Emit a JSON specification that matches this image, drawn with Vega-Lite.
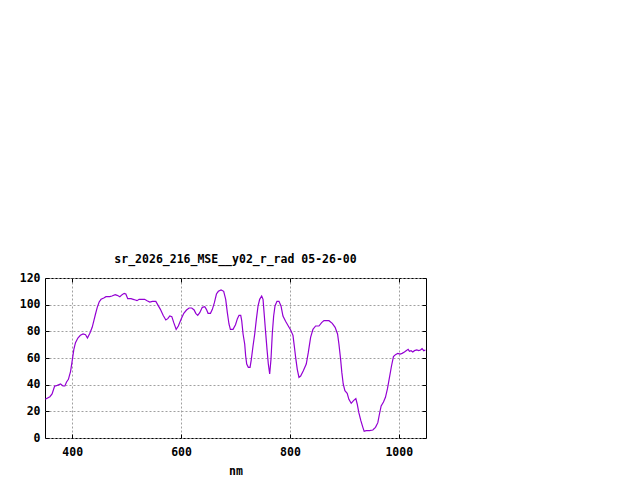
{
  "$schema": "https://vega.github.io/schema/vega-lite/v6.json",
  "autosize": "none",
  "padding": {"left": 45, "top": 278, "right": 214, "bottom": 42},
  "width": 381,
  "height": 160,
  "background": "white",
  "title": {"text": "sr_2026_216_MSE__y02_r_rad 05-26-00", "font": "DejaVu Sans Mono", "fontSize": 11.5, "fontWeight": "bold", "color": "black", "offset": 7, "anchor": "middle"},
  "config": {
    "view": {"stroke": "black", "strokeWidth": 1},
    "axis": {"labelFont": "DejaVu Sans Mono", "labelFontSize": 11.5, "labelFontWeight": "bold", "labelColor": "black", "titleFont": "DejaVu Sans Mono", "titleFontSize": 11.5, "titleFontWeight": "bold", "titleColor": "black", "domain": false, "tickColor": "black", "tickSize": -4, "gridColor": "#a0a0a0", "gridDash": [2, 2], "gridOpacity": 1, "gridWidth": 1}
  },
  "data": {"values": [
    {"nm": 350.5, "v": 29}, {"nm": 359, "v": 31}, {"nm": 363, "v": 33}, {"nm": 367.6, "v": 38.8}, {"nm": 372.5, "v": 39.5}, {"nm": 378.6, "v": 40.5}, {"nm": 383, "v": 39}, {"nm": 386.5, "v": 39}, {"nm": 389.6, "v": 42}, {"nm": 393, "v": 44}, {"nm": 397, "v": 50}, {"nm": 400, "v": 58}, {"nm": 403, "v": 66.5}, {"nm": 406, "v": 71.5}, {"nm": 410.4, "v": 75}, {"nm": 415, "v": 77}, {"nm": 420, "v": 78}, {"nm": 424.5, "v": 77.5}, {"nm": 428, "v": 75}, {"nm": 432.4, "v": 78.5}, {"nm": 436.7, "v": 83}, {"nm": 439.8, "v": 88}, {"nm": 442.8, "v": 93}, {"nm": 446, "v": 98}, {"nm": 449.5, "v": 102}, {"nm": 453, "v": 104}, {"nm": 458, "v": 105}, {"nm": 462, "v": 106}, {"nm": 469, "v": 106}, {"nm": 473, "v": 106.5}, {"nm": 479, "v": 107.5}, {"nm": 482.6, "v": 107}, {"nm": 487.5, "v": 106}, {"nm": 491.7, "v": 107.5}, {"nm": 495.4, "v": 108.5}, {"nm": 498.5, "v": 108}, {"nm": 502, "v": 104.5}, {"nm": 508, "v": 104.5}, {"nm": 512, "v": 104}, {"nm": 516, "v": 103.5}, {"nm": 519, "v": 103}, {"nm": 523, "v": 104}, {"nm": 530, "v": 104}, {"nm": 533, "v": 104}, {"nm": 537.6, "v": 103}, {"nm": 542.5, "v": 102}, {"nm": 547.4, "v": 102.5}, {"nm": 553.6, "v": 102.5}, {"nm": 557.8, "v": 99.5}, {"nm": 562, "v": 96.5}, {"nm": 567, "v": 92}, {"nm": 572, "v": 88.5}, {"nm": 575.6, "v": 89.5}, {"nm": 579.3, "v": 91.5}, {"nm": 583, "v": 91}, {"nm": 586.6, "v": 86.5}, {"nm": 591, "v": 81.5}, {"nm": 595, "v": 84}, {"nm": 600, "v": 89}, {"nm": 605, "v": 93.5}, {"nm": 610, "v": 96}, {"nm": 614.7, "v": 97.5}, {"nm": 619.6, "v": 97.5}, {"nm": 624, "v": 96}, {"nm": 627, "v": 93.5}, {"nm": 630.6, "v": 92}, {"nm": 634.3, "v": 94}, {"nm": 639, "v": 98}, {"nm": 643.5, "v": 98.5}, {"nm": 646.5, "v": 96.5}, {"nm": 649.6, "v": 93.5}, {"nm": 654, "v": 93.5}, {"nm": 657.5, "v": 96.5}, {"nm": 661.2, "v": 101.5}, {"nm": 665, "v": 108}, {"nm": 668.5, "v": 110}, {"nm": 673.5, "v": 111}, {"nm": 678.3, "v": 110}, {"nm": 682, "v": 104}, {"nm": 685, "v": 94}, {"nm": 688, "v": 85.5}, {"nm": 690.6, "v": 81.5}, {"nm": 695.5, "v": 81.5}, {"nm": 700, "v": 85}, {"nm": 703.5, "v": 89.5}, {"nm": 706.5, "v": 92}, {"nm": 709.6, "v": 92}, {"nm": 711.4, "v": 88}, {"nm": 713.9, "v": 78}, {"nm": 716.9, "v": 70.5}, {"nm": 718.7, "v": 61.5}, {"nm": 720.6, "v": 55.5}, {"nm": 723.6, "v": 53}, {"nm": 726.7, "v": 53}, {"nm": 729.1, "v": 59}, {"nm": 732.2, "v": 69}, {"nm": 735.3, "v": 78}, {"nm": 738.3, "v": 89}, {"nm": 741.4, "v": 99}, {"nm": 744.4, "v": 104}, {"nm": 748.1, "v": 106.5}, {"nm": 750.6, "v": 104}, {"nm": 753, "v": 91.5}, {"nm": 755.4, "v": 79}, {"nm": 757.9, "v": 66.5}, {"nm": 760.3, "v": 55.5}, {"nm": 762.8, "v": 48}, {"nm": 765.2, "v": 59}, {"nm": 767.7, "v": 79}, {"nm": 770.1, "v": 91.5}, {"nm": 772.6, "v": 99}, {"nm": 776.2, "v": 102.5}, {"nm": 779.9, "v": 102.5}, {"nm": 783.6, "v": 99}, {"nm": 787.2, "v": 91.5}, {"nm": 792, "v": 87.5}, {"nm": 797, "v": 84}, {"nm": 801.3, "v": 81}, {"nm": 805.6, "v": 77}, {"nm": 808, "v": 69}, {"nm": 810.5, "v": 60.5}, {"nm": 813.5, "v": 51.5}, {"nm": 816.6, "v": 45.5}, {"nm": 819.7, "v": 46.5}, {"nm": 824.6, "v": 50.5}, {"nm": 830, "v": 55.5}, {"nm": 833.7, "v": 64}, {"nm": 838, "v": 75.5}, {"nm": 842.3, "v": 81.5}, {"nm": 847.2, "v": 84}, {"nm": 853.3, "v": 84}, {"nm": 858.2, "v": 86.5}, {"nm": 862.5, "v": 88}, {"nm": 871.7, "v": 88}, {"nm": 877.8, "v": 86}, {"nm": 883, "v": 83}, {"nm": 887.5, "v": 78}, {"nm": 890, "v": 70.5}, {"nm": 893, "v": 59.5}, {"nm": 895.4, "v": 49}, {"nm": 897.9, "v": 40.5}, {"nm": 901, "v": 35.5}, {"nm": 905.2, "v": 33.5}, {"nm": 908.3, "v": 29}, {"nm": 912.6, "v": 26}, {"nm": 916.8, "v": 28}, {"nm": 921.1, "v": 29.5}, {"nm": 923.6, "v": 25.5}, {"nm": 926.6, "v": 19}, {"nm": 930.3, "v": 13}, {"nm": 934, "v": 8}, {"nm": 936.4, "v": 5}, {"nm": 940, "v": 5.5}, {"nm": 946.2, "v": 5.5}, {"nm": 952.3, "v": 6}, {"nm": 957.2, "v": 8}, {"nm": 961.5, "v": 11.5}, {"nm": 964.5, "v": 18}, {"nm": 967.6, "v": 24}, {"nm": 971.9, "v": 27}, {"nm": 975.5, "v": 30.5}, {"nm": 979.2, "v": 37}, {"nm": 982.9, "v": 45.5}, {"nm": 986.6, "v": 54}, {"nm": 990.2, "v": 61}, {"nm": 993.9, "v": 62.5}, {"nm": 998.2, "v": 63.5}, {"nm": 1002.5, "v": 63}, {"nm": 1006.1, "v": 63.5}, {"nm": 1010.4, "v": 64.5}, {"nm": 1013.5, "v": 65.5}, {"nm": 1017.2, "v": 66.5}, {"nm": 1019.6, "v": 65}, {"nm": 1022.6, "v": 65.5}, {"nm": 1025.7, "v": 64.5}, {"nm": 1028.8, "v": 65.5}, {"nm": 1033, "v": 66}, {"nm": 1036.7, "v": 65.5}, {"nm": 1039.8, "v": 66}, {"nm": 1042.8, "v": 67}, {"nm": 1045.9, "v": 65.5}, {"nm": 1049, "v": 66}
  ]},
  "layer": [
    {
      "mark": {"type": "line", "color": "#9400D3", "strokeWidth": 1.2, "interpolate": "linear", "clip": true},
      "encoding": {
        "x": {"field": "nm", "type": "quantitative", "scale": {"domain": [350, 1050], "nice": false, "zero": false}, "axis": {"title": "nm", "values": [400, 600, 800, 1000], "format": "d", "labelPadding": 12, "titlePadding": 8, "labelFlush": false}},
        "y": {"field": "v", "type": "quantitative", "scale": {"domain": [0, 120], "nice": false}, "axis": {"title": null, "values": [0, 20, 40, 60, 80, 100, 120], "labelPadding": 9}}
      }
    },
    {
      "mark": {"type": "line", "opacity": 0},
      "encoding": {
        "x": {"field": "nm", "type": "quantitative", "axis": {"orient": "top", "title": null, "labels": false, "grid": false, "values": [400, 600, 800, 1000]}},
        "y": {"field": "v", "type": "quantitative", "axis": {"orient": "right", "title": null, "labels": false, "grid": false, "values": [0, 20, 40, 60, 80, 100, 120]}}
      }
    }
  ],
  "resolve": {"axis": {"x": "independent", "y": "independent"}}
}
